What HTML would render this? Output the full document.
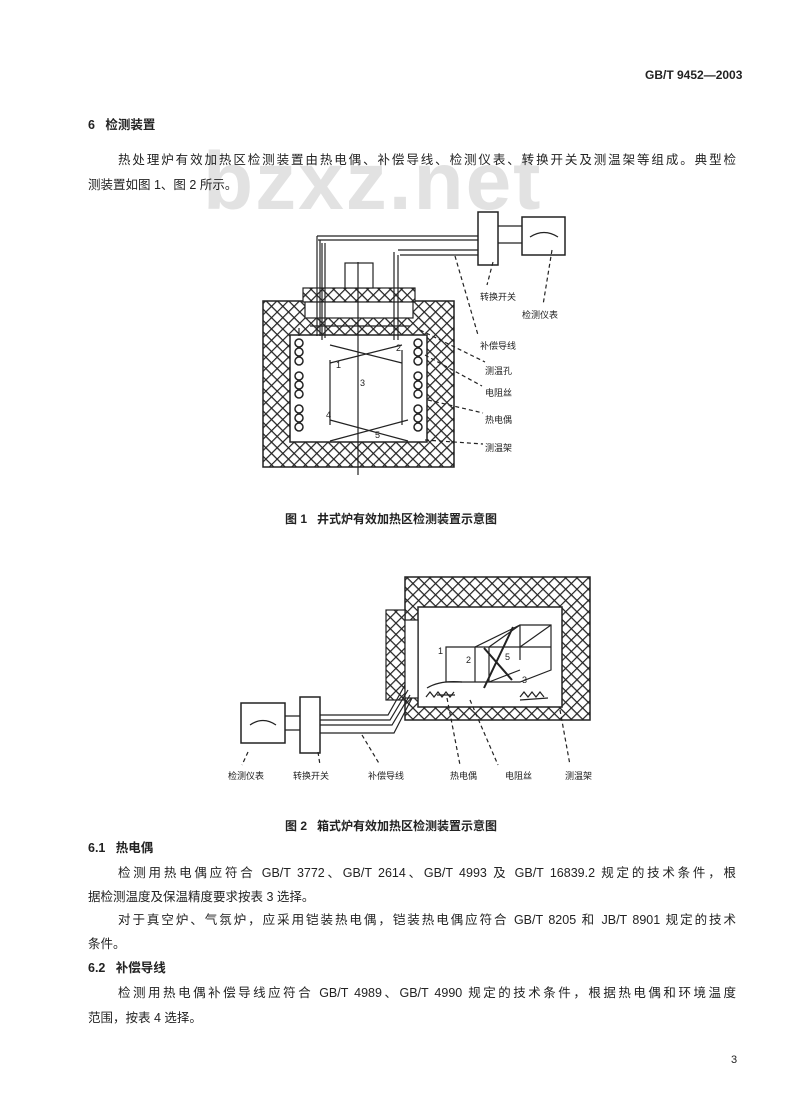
<!DOCTYPE html>
<html><head><meta charset="utf-8"><style>
html,body{margin:0;padding:0;background:#fff;}
body{width:800px;height:1101px;position:relative;overflow:hidden;font-family:"Liberation Sans","Noto Sans CJK SC",sans-serif;color:#222;}
.t{position:absolute;font-size:12.5px;white-space:nowrap;line-height:16px;}
.j{position:absolute;font-size:12.5px;line-height:16px;text-align:justify;text-align-last:justify;white-space:nowrap;}
.b{font-weight:bold;}
svg{position:absolute;left:0;top:0;}
</style></head><body>
<div class="t b" style="left:645px;top:67px;font-size:12px;">GB/T 9452—2003</div>
<div style="position:absolute;left:203px;top:132px;font-size:82px;line-height:100px;font-weight:bold;color:#e2e2e2;font-family:'Liberation Sans',sans-serif;letter-spacing:2px;">bzxz.net</div>
<div class="t b" style="left:88px;top:117px;">6&nbsp;&nbsp;&nbsp;检测装置</div>
<div class="j" style="left:118px;top:152px;width:618px;">热处理炉有效加热区检测装置由热电偶、补偿导线、检测仪表、转换开关及测温架等组成。典型检</div>
<div class="t" style="left:88px;top:177px;">测装置如图 1、图 2 所示。</div>

<svg width="800" height="1101" viewBox="0 0 800 1101">
<defs>
<pattern id="h" width="8" height="8" patternUnits="userSpaceOnUse" patternTransform="rotate(45)">
<rect width="8" height="8" fill="#fff"/>
<path d="M0 0H8M0 0V8" stroke="#222" stroke-width="2.4"/>
</pattern>
</defs>
<g stroke="#222" fill="none" stroke-width="1.2">
<!-- Figure 1 -->
<path d="M263 301H454V467H263Z M290 335V442H427V335Z" fill="url(#h)" fill-rule="evenodd" stroke-width="1.5"/>
<rect x="303" y="288" width="112" height="14" fill="url(#h)"/>
<rect x="345" y="263" width="28" height="25" fill="#fff"/>
<rect x="305" y="302" width="108" height="16" fill="#fff"/>
<line x1="310" y1="326" x2="410" y2="326"/>
<line x1="299" y1="328" x2="299" y2="336"/>
<path d="M317 236H478 M318 240H478 M322 243V340 M325 243V338 M398 250H478 M394 252V340 M400 255H478 M398 255V340"/>
<path d="M317 236V336 M320 240V336"/>
<g stroke-width="1.5">
<circle cx="299" cy="343" r="4"/><circle cx="299" cy="352" r="4"/><circle cx="299" cy="361" r="4"/>
<circle cx="299" cy="376" r="4"/><circle cx="299" cy="385" r="4"/><circle cx="299" cy="394" r="4"/>
<circle cx="299" cy="409" r="4"/><circle cx="299" cy="418" r="4"/><circle cx="299" cy="427" r="4"/>
<circle cx="418" cy="343" r="4"/><circle cx="418" cy="352" r="4"/><circle cx="418" cy="361" r="4"/>
<circle cx="418" cy="376" r="4"/><circle cx="418" cy="385" r="4"/><circle cx="418" cy="394" r="4"/>
<circle cx="418" cy="409" r="4"/><circle cx="418" cy="418" r="4"/><circle cx="418" cy="427" r="4"/>
</g>
<path d="M330 345L402 363 M330 363L402 345 M330 420L408 441 M330 441L408 420 M358 262V475" />
<path d="M330 360V425 M402 350V425"/>
<rect x="478" y="212" width="20" height="53" fill="#fff" stroke-width="1.5"/>
<rect x="522" y="217" width="43" height="38" fill="#fff" stroke-width="1.5"/>
<path d="M498 226H522 M498 243H522 M530 237Q544 228 558 237"/>
<g stroke-dasharray="4 3">
<path d="M493 262L487 285 M552 250L543 305 M455 256L478 335 M420 330L485 362 M425 355L482 386 M428 400L483 413 M425 440L483 444"/>
</g>
<!-- Figure 2 -->
<path d="M405 577H590V720H405Z M418 607V707H562V607Z" fill="url(#h)" fill-rule="evenodd" stroke-width="1.5"/>
<rect x="386" y="610" width="19" height="90" fill="url(#h)"/>
<rect x="405" y="620" width="13" height="78" fill="#fff"/>
<path d="M446 647H475L520 625H551V670L520 682H446Z M446 647V682 M475 647V682" stroke-width="1.2"/>
<path d="M489 647V682 M520 625V660 M489 682L520 670 M489 647L520 625 M551 625L520 647 M475 647H551" />
<path d="M484 688L513 627 M484 648L512 680" stroke-width="2"/>
<path d="M427 688Q440 680 462 682 M437 695H455 M520 700L548 698" />
<path d="M426 697l4-5 4 5 4-5 4 5 4-5 4 5 4-5 M520 697l4-5 4 5 4-5 4 5 4-5 4 5"/>
<rect x="241" y="703" width="44" height="40" fill="#fff" stroke-width="1.5"/>
<rect x="300" y="697" width="20" height="56" fill="#fff" stroke-width="1.5"/>
<path d="M250 725Q263 716 276 725 M285 716H300 M285 730H300"/>
<path d="M320 715H388L405 685 M320 720H390L408 690 M320 725H392L410 695 M320 733H394L412 698"/>
<g stroke-dasharray="4 3">
<path d="M248 752L242 765 M318 752L320 765 M362 735L380 765 M447 698L460 765 M470 700L498 765 M560 710L570 765"/>
</g>
</g>
<g font-family="Liberation Sans, Noto Sans CJK SC, sans-serif" font-size="9" fill="#222">
<text x="336" y="368">1</text><text x="396" y="351">2</text><text x="360" y="386">3</text><text x="326" y="418">4</text><text x="375" y="438">5</text>
<text x="480" y="300">转换开关</text><text x="522" y="318">检测仪表</text>
<text x="480" y="349">补偿导线</text><text x="485" y="374">测温孔</text><text x="485" y="396">电阻丝</text><text x="485" y="423">热电偶</text><text x="485" y="451">测温架</text>
<text x="438" y="654">1</text><text x="466" y="663">2</text><text x="505" y="660">5</text><text x="522" y="683">3</text>
<text x="228" y="779">检测仪表</text><text x="293" y="779">转换开关</text><text x="368" y="779">补偿导线</text><text x="450" y="779">热电偶</text><text x="505" y="779">电阻丝</text><text x="565" y="779">测温架</text>
</g>
</svg>

<div class="t b" style="left:285px;top:511px;font-size:12px;">图 1&nbsp;&nbsp;&nbsp;井式炉有效加热区检测装置示意图</div>
<div class="t b" style="left:285px;top:818px;font-size:12px;">图 2&nbsp;&nbsp;&nbsp;箱式炉有效加热区检测装置示意图</div>
<div class="t b" style="left:88px;top:840px;">6.1&nbsp;&nbsp;&nbsp;热电偶</div>
<div class="j" style="left:118px;top:865px;width:618px;">检测用热电偶应符合 GB/T 3772、GB/T 2614、GB/T 4993 及 GB/T 16839.2 规定的技术条件，根</div>
<div class="t" style="left:88px;top:889px;">据检测温度及保温精度要求按表 3 选择。</div>
<div class="j" style="left:118px;top:912px;width:618px;">对于真空炉、气氛炉，应采用铠装热电偶，铠装热电偶应符合 GB/T 8205 和 JB/T 8901 规定的技术</div>
<div class="t" style="left:88px;top:936px;">条件。</div>
<div class="t b" style="left:88px;top:960px;">6.2&nbsp;&nbsp;&nbsp;补偿导线</div>
<div class="j" style="left:118px;top:985px;width:618px;">检测用热电偶补偿导线应符合 GB/T 4989、GB/T 4990 规定的技术条件，根据热电偶和环境温度</div>
<div class="t" style="left:88px;top:1010px;">范围，按表 4 选择。</div>
<div class="t" style="left:731px;top:1052px;font-size:11px;">3</div>
</body></html>
